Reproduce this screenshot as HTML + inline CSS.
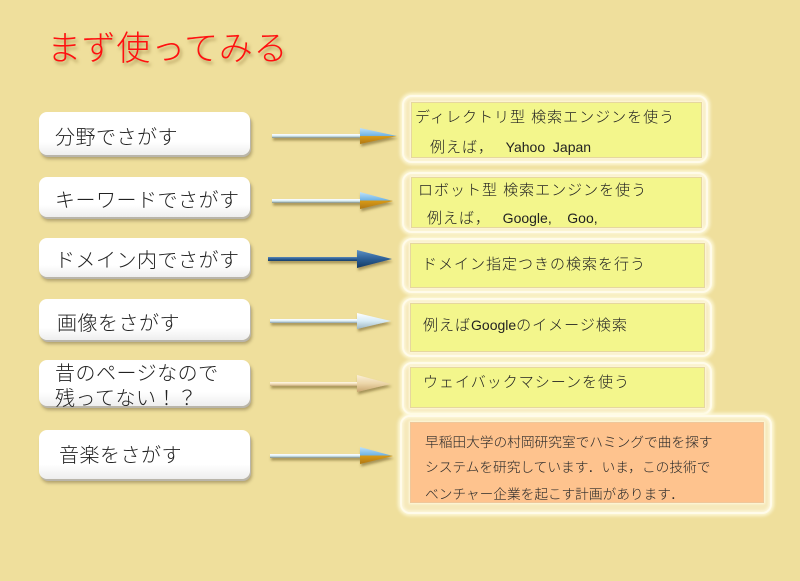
<!DOCTYPE html>
<html><head><meta charset="utf-8">
<style>
html,body{margin:0;padding:0}
body{width:800px;height:581px;position:relative;overflow:hidden;background:#efdf9c;font-family:"Liberation Sans","Noto Sans CJK JP",sans-serif;}
.t{position:absolute;white-space:nowrap}
.title{left:47px;top:29px;font-size:34px;line-height:40px;color:#ff1010;font-weight:300;letter-spacing:0.7px;text-shadow:2px 3px 3px rgba(130,100,40,0.55);}
.lb{position:absolute;left:39px;width:211px;background:linear-gradient(#ffffff 0%,#ffffff 70%,#eeeeee 100%);border-radius:8px;box-shadow:1px 2px 0 #b9b5aa,2px 4px 3px rgba(100,85,50,0.45);}
.lt{position:absolute;font-size:20px;line-height:24px;color:#222;white-space:nowrap;font-weight:300;letter-spacing:0.5px}
.ob{position:absolute;border:2px solid #fffbea;border-radius:10px;background:#f6e9bb;box-shadow:0 0 3px 2px rgba(255,252,225,0.85),inset 0 0 3px 1px rgba(255,252,230,0.9);}
.yb{position:absolute;background:#f3f68c;border:1px solid #e6d79e;box-shadow:0 0 2px 1px rgba(255,250,225,0.9);}
.rt{position:absolute;font-size:15px;line-height:18px;color:#222;white-space:nowrap;letter-spacing:1px;font-weight:300}
.rt .l{letter-spacing:0;font-size:14px}
.r6{position:absolute;font-size:13.7px;line-height:18px;color:#2a2a2a;white-space:nowrap;font-weight:300}
svg{position:absolute;left:0;top:0}
</style></head><body>

<div class="t title">まず使ってみる</div>

<!-- left boxes -->
<div class="lb" style="top:112px;height:43px"></div>
<div class="lb" style="top:177px;height:40px"></div>
<div class="lb" style="top:238px;height:39px"></div>
<div class="lb" style="top:299px;height:41px"></div>
<div class="lb" style="top:360px;height:46px"></div>
<div class="lb" style="top:430px;height:49px"></div>

<div class="lt" style="left:55px;top:126px">分野でさがす</div>
<div class="lt" style="left:55px;top:189px">キーワードでさがす</div>
<div class="lt" style="left:55px;top:249px">ドメイン内でさがす</div>
<div class="lt" style="left:57px;top:312px">画像をさがす</div>
<div class="lt" style="left:55px;top:362px;line-height:25px">昔のページなので<br>残ってない！？</div>
<div class="lt" style="left:59px;top:444px">音楽をさがす</div>

<!-- right boxes -->
<div class="ob" style="left:402px;top:95px;width:302px;height:64px"></div>
<div class="yb" style="left:411px;top:102px;width:289px;height:54px"></div>
<div class="ob" style="left:402px;top:172px;width:302px;height:57px"></div>
<div class="yb" style="left:411px;top:177px;width:289px;height:49px"></div>
<div class="ob" style="left:402px;top:238px;width:306px;height:51px"></div>
<div class="yb" style="left:410px;top:243px;width:293px;height:43px"></div>
<div class="ob" style="left:402px;top:298px;width:306px;height:55px"></div>
<div class="yb" style="left:410px;top:303px;width:293px;height:47px"></div>
<div class="ob" style="left:402px;top:362px;width:306px;height:49px"></div>
<div class="yb" style="left:410px;top:367px;width:293px;height:39px"></div>
<div class="ob" style="left:400px;top:415px;width:368px;height:95px"></div>
<div class="yb" style="left:410px;top:422px;width:352px;height:79px;background:#fec38e;border-color:#efc79a"></div>

<div class="rt" style="left:415px;top:109px">ディレクトリ型 検索エンジンを使う</div>
<div class="rt" style="left:430px;top:138px">例えば，<span class="l">&nbsp;&nbsp; Yahoo&nbsp; Japan</span></div>
<div class="rt" style="left:418px;top:182px">ロボット型 検索エンジンを使う</div>
<div class="rt" style="left:427px;top:209px">例えば，<span class="l">&nbsp;&nbsp; Google,&nbsp;&nbsp;&nbsp; Goo,</span></div>
<div class="rt" style="left:422px;top:256px">ドメイン指定つきの検索を行う</div>
<div class="rt" style="left:423px;top:316px">例えば<span class="l">Google</span>のイメージ検索</div>
<div class="rt" style="left:423px;top:374px">ウェイバックマシーンを使う</div>
<div class="r6" style="left:425px;top:434px">早稲田大学の村岡研究室でハミングで曲を探す</div>
<div class="r6" style="left:425px;top:459px">システムを研究しています．いま，この技術で</div>
<div class="r6" style="left:425px;top:486px">ベンチャー企業を起こす計画があります．</div>

<svg width="800" height="581" viewBox="0 0 800 581">
<defs>
<filter id="sh" x="-20%" y="-50%" width="140%" height="250%">
<feDropShadow dx="1" dy="2.5" stdDeviation="1.4" flood-color="#6a5520" flood-opacity="0.55"/>
</filter>
<linearGradient id="sA" x1="0" y1="0" x2="0" y2="1">
<stop offset="0" stop-color="#ffffff"/><stop offset="0.5" stop-color="#d6ecf4"/><stop offset="1" stop-color="#7f8a80"/>
</linearGradient>
<linearGradient id="hA" x1="0" y1="0" x2="0" y2="1">
<stop offset="0" stop-color="#bfe2fa"/><stop offset="0.48" stop-color="#6fb4e6"/><stop offset="0.52" stop-color="#d89a18"/><stop offset="1" stop-color="#b07810"/>
</linearGradient>
<linearGradient id="sB" x1="0" y1="0" x2="0" y2="1">
<stop offset="0" stop-color="#5a88b8"/><stop offset="0.5" stop-color="#2b5d92"/><stop offset="1" stop-color="#183e68"/>
</linearGradient>
<linearGradient id="hB" x1="0" y1="0" x2="0" y2="1">
<stop offset="0" stop-color="#5d90c4"/><stop offset="0.5" stop-color="#2c5f96"/><stop offset="1" stop-color="#163a62"/>
</linearGradient>
<linearGradient id="sC" x1="0" y1="0" x2="0" y2="1">
<stop offset="0" stop-color="#ffffff"/><stop offset="0.5" stop-color="#dceef6"/><stop offset="1" stop-color="#8aa0a8"/>
</linearGradient>
<linearGradient id="hC" x1="0" y1="0" x2="0" y2="1">
<stop offset="0" stop-color="#ffffff"/><stop offset="0.5" stop-color="#d8ecf6"/><stop offset="1" stop-color="#9fb6c0"/>
</linearGradient>
<linearGradient id="sD" x1="0" y1="0" x2="0" y2="1">
<stop offset="0" stop-color="#fff8e8"/><stop offset="0.5" stop-color="#f2dfb8"/><stop offset="1" stop-color="#c4a878"/>
</linearGradient>
<linearGradient id="hD" x1="0" y1="0" x2="0" y2="1">
<stop offset="0" stop-color="#fbf0d8"/><stop offset="0.5" stop-color="#ecd6a8"/><stop offset="1" stop-color="#c9a670"/>
</linearGradient>
</defs>

<g filter="url(#sh)">
<rect x="272" y="134" width="90" height="4" fill="url(#sA)"/>
<polygon points="360,128 397,136 360,144" fill="url(#hA)"/>
</g>
<g filter="url(#sh)">
<rect x="272" y="199" width="90" height="4" fill="url(#sA)"/>
<polygon points="360,192 393,201 360,209" fill="url(#hA)"/>
</g>
<g filter="url(#sh)">
<rect x="268" y="257" width="92" height="4" fill="url(#sB)"/>
<polygon points="357,250 392,259 357,268" fill="url(#hB)"/>
</g>
<g filter="url(#sh)">
<rect x="270" y="319" width="90" height="4" fill="url(#sC)"/>
<polygon points="357,313 391,321 357,329" fill="url(#hC)"/>
</g>
<g filter="url(#sh)">
<rect x="270" y="382" width="90" height="4" fill="url(#sD)"/>
<polygon points="357,375 391,384 357,392" fill="url(#hD)"/>
</g>
<g filter="url(#sh)">
<rect x="270" y="454" width="92" height="4" fill="url(#sA)"/>
<polygon points="360,447 393,456 360,464" fill="url(#hA)"/>
</g>
</svg>
</body></html>
